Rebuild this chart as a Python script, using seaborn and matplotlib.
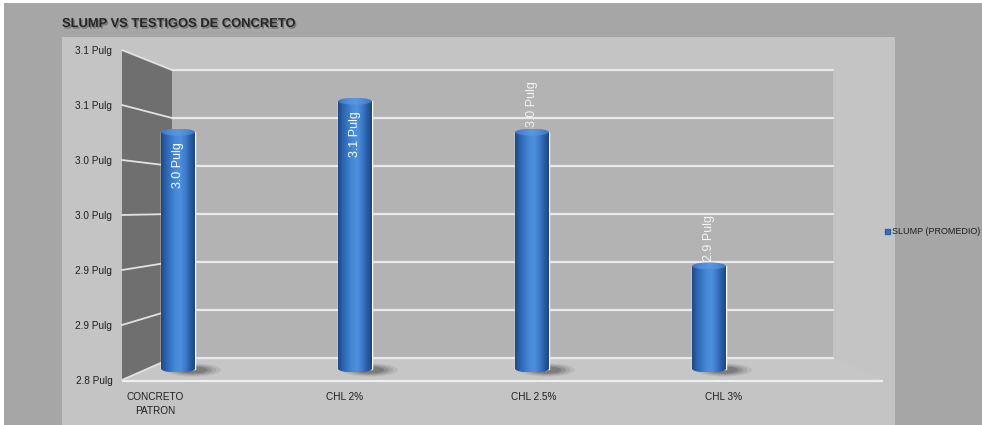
import numpy as np
import pandas as pd
import matplotlib
matplotlib.use("Agg")
import matplotlib.pyplot as plt
import matplotlib.patheffects as pe
from matplotlib.patches import Polygon, Rectangle, Ellipse, Patch
from matplotlib.colors import LinearSegmentedColormap
import seaborn as sns

# ---- data -------------------------------------------------------------
categories = ["CONCRETO\nPATRON", "CHL 2%", "CHL 2.5%", "CHL 3%"]
slump = [3.03, 3.06, 3.03, 2.90]
series_name = "SLUMP (PROMEDIO)"
y_ticks = [2.80, 2.85, 2.90, 2.95, 3.00, 3.05, 3.10]
y_tick_labels = ["2.8 Pulg", "2.9 Pulg", "2.9 Pulg", "3.0 Pulg",
                 "3.0 Pulg", "3.1 Pulg", "3.1 Pulg"]
label_inside = [True, True, False, False]
title = "SLUMP VS TESTIGOS DE CONCRETO"

# ---- figure setup -----------------------------------------------------
W, H = 982, 425
sns.set_theme(style="white")
plt.rcParams["font.family"] = ["Liberation Sans", "DejaVu Sans"]

fig = plt.figure(figsize=(W / 100, H / 100), dpi=100, facecolor="#a6a6a6")


def box(x0, y0, x1, y1):
    """Pixel box (top-left origin) -> figure fraction rect."""
    return [x0 / W, 1 - y1 / H, (x1 - x0) / W, (y1 - y0) / H]


y_lo, y_hi = y_ticks[0], y_ticks[-1]

# background layer in pixel coordinates: plot area, walls and floor
bg = fig.add_axes([0, 0, 1, 1], zorder=0)
bg.set_xlim(0, W)
bg.set_ylim(H, 0)
bg.axis("off")
bg.add_patch(Rectangle((62, 37), 895 - 62, H - 37 + 5, fc="#c4c4c4", ec="none"))
bg.add_patch(Rectangle((0, 0), W, 3, fc="white", ec="none"))
bg.add_patch(Rectangle((0, 0), 4, H, fc="white", ec="none"))

# floor
bg.add_patch(Polygon([(122, 380), (172, 358), (833, 358), (883, 380)],
                     closed=True, fc="#c6c6c6", ec="none"))
bg.plot([122, 883], [381, 381], color="#eeeeee", lw=1.6, solid_capstyle="butt")
# left side wall
bg.add_patch(Polygon([(122, 50), (172, 70), (172, 358), (122, 380)],
                     closed=True, fc="#6f6f6f", ec="none"))
for t in y_ticks:
    f = (t - y_lo) / (y_hi - y_lo)
    bg.plot([122, 172], [380 - 330 * f, 358 - 288 * f], color="#e2e2e2", lw=1.3)

# back wall with its gridlines
wall = fig.add_axes(box(172, 70, 833, 358), zorder=1)
wall.set_facecolor("#b3b3b3")
wall.set_ylim(y_lo, y_hi)
wall.set_yticks(y_ticks)
wall.set_xticks([])
wall.grid(axis="y", color="#e9e9e9", lw=1.6)
wall.tick_params(length=0, labelleft=False, labelbottom=False)
for s in wall.spines.values():
    s.set_visible(False)
for gl in wall.get_ygridlines():
    gl.set_clip_on(False)

xlim = (-0.175, 3.842)

# front frame carrying the axis labels
front = fig.add_axes(box(122, 50, 883, 380), zorder=2)
front.patch.set_alpha(0)
front.set_xlim(*xlim)
front.set_ylim(y_lo, y_hi)
front.set_yticks(y_ticks)
front.set_yticklabels(y_tick_labels)
front.set_xticks(range(len(categories)))
front.set_xticklabels(categories, linespacing=1.5)
front.tick_params(axis="y", length=0, pad=7, labelsize=7.2, labelcolor="#1e1e1e")
front.tick_params(axis="x", length=0, pad=9, labelsize=7.2, labelcolor="#1e1e1e")
for lab in front.get_xticklabels():
    lab.set_verticalalignment("top")
front.grid(False)
for s in front.spines.values():
    s.set_visible(False)

# ---- cylinders --------------------------------------------------------
px_per_unit = (369 - 60) / (y_hi - y_lo)
floor_pad = 12 / px_per_unit
ax = fig.add_axes(box(147, 60, 858, 369 + 12), zorder=3)
ax.patch.set_alpha(0)

df = pd.DataFrame({"Testigo": categories, "Slump": slump})
sns.barplot(data=df, x="Testigo", y="Slump", ax=ax, color="#3572c0",
            width=0.19, saturation=1, errorbar=None)
bars = list(ax.patches)

body_cmap = LinearSegmentedColormap.from_list(
    "cyl", ["#1c4883", "#2c63ad", "#3877c8", "#4789d7", "#4f90dc",
            "#3d7bcb", "#2a5ea5", "#1b4681"])
top_cmap = LinearSegmentedColormap.from_list(
    "cyltop", ["#3a76c4", "#4f8ad6", "#5b98e0", "#4f8ad6", "#3b74bf"])
grad = np.linspace(0, 1, 256).reshape(1, -1)
eh = 7 / px_per_unit

for bar, v, inside in zip(bars, slump, label_inside):
    x0, w = bar.get_x(), bar.get_width()
    xc = x0 + w / 2
    bar.set_y(y_lo)
    bar.set_height(v - y_lo)
    bar.set_zorder(2)

    # soft shadow on the floor
    for k, a in enumerate([0.10, 0.14, 0.20, 0.28]):
        sw = (56 - 9 * k) / 177
        sh = (13 - 2 * k) / px_per_unit
        ax.add_patch(Ellipse((xc + 15 / 177, y_lo - 1 / px_per_unit), sw, sh,
                             fc="#404040", ec="none", alpha=a, zorder=1))

    # rounded bottom
    bottom = Ellipse((xc, y_lo), w, eh, transform=ax.transData)
    im_b = ax.imshow(grad, cmap=body_cmap, aspect="auto", zorder=2.5,
                     extent=[x0, x0 + w, y_lo - eh / 2, y_lo + eh / 2],
                     interpolation="bicubic")
    im_b.set_clip_path(bottom)

    # shaded body
    im = ax.imshow(grad, cmap=body_cmap, aspect="auto", zorder=3,
                   extent=[x0, x0 + w, y_lo, v], interpolation="bicubic")
    im.set_clip_path(bar)

    # top cap
    cap = Ellipse((xc, v), w, eh, transform=ax.transData)
    im_t = ax.imshow(grad, cmap=top_cmap, aspect="auto", zorder=4,
                     extent=[x0, x0 + w, v - eh / 2, v + eh / 2],
                     interpolation="bicubic")
    im_t.set_clip_path(cap)

    # value label
    txt = f"{v:.1f} Pulg"
    if inside:
        ax.text(xc, v - 10 / px_per_unit, txt, rotation=90, ha="center",
                va="top", fontsize=9, color="white", zorder=6)
    else:
        ax.text(xc, v + 5 / px_per_unit, txt, rotation=90, ha="center",
                va="bottom", fontsize=9, color="#f2f2f2", zorder=6)

ax.set_xlim(*xlim)
ax.set_ylim(y_lo - floor_pad, y_hi)
ax.axis("off")

# ---- title and legend -------------------------------------------------
fig.text(62 / W, 1 - 24 / H, title, fontsize=9.3, fontweight="bold",
         color="#262626", ha="left", va="center",
         path_effects=[pe.SimplePatchShadow(offset=(1, -1.2), alpha=0.3),
                       pe.Normal()])

fig.legend(handles=[Patch(facecolor="#3572c0", edgecolor="#2a5ea5")],
           labels=[series_name], loc="center left",
           bbox_to_anchor=(885 / W, 1 - 232 / H), frameon=False,
           handlelength=0.55, handleheight=0.55, handletextpad=0.2,
           borderaxespad=0, borderpad=0, fontsize=6.5,
           labelcolor="#1e1e1e")

fig.savefig("out.png", dpi=100, facecolor=fig.get_facecolor())
